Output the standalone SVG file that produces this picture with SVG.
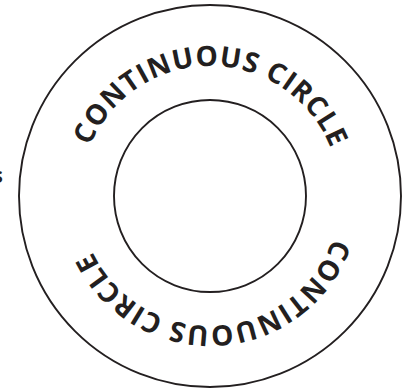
<svg xmlns="http://www.w3.org/2000/svg" width="409" height="390" viewBox="0 0 409 390">
  <style>
    .ring { fill: none; stroke: #231f20; stroke-width: 1.9; }
    .label { font-family: "Open Sans", "Noto Sans", sans-serif; font-weight: 700; font-size: 28px; letter-spacing: 0.9px; fill: #231f20; }
  </style>
  <defs>
    <path id="textCircle" d="M 80,196 A 130 130 0 1 1 340,196 A 130 130 0 1 1 80,196"/>
  </defs>
  <rect width="409" height="390" fill="#ffffff"/>
  <g id="outer-circle">
    <circle class="ring" cx="210" cy="196" r="191"/>
  </g>
  <g id="inner-circle">
    <circle class="ring" cx="210" cy="196" r="96"/>
  </g>
  <g id="label-top">
    <text class="label" text-anchor="middle"><textPath href="#textCircle" startOffset="25.17%">CONTINUOUS CIRCLE</textPath></text>
  </g>
  <g id="label-bottom">
    <text class="label" text-anchor="middle"><textPath href="#textCircle" startOffset="74.17%">CONTINUOUS CIRCLE</textPath></text>
  </g>
  <g id="edge-fragment">
    <text x="-8" y="183" style="font-family: 'Open Sans', sans-serif; font-weight: 700; font-size: 22px; fill: #231f20;">s</text>
  </g>
</svg>
